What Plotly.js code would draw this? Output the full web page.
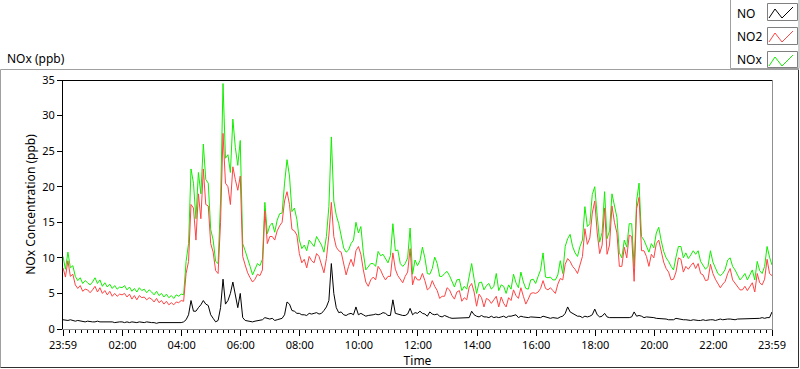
<!DOCTYPE html>
<html>
<head>
<meta charset="utf-8">
<script src="https://cdn.plot.ly/plotly-3.0.1.min.js"></script>
<style>
  html, body { margin: 0; padding: 0; background: #ffffff; }
  #chart { width: 800px; height: 369px; }
</style>
</head>
<body>
<div id="chart"></div>
<script>
// ---- data (5-minute samples starting 23:59) ----
const sampleStepMinutes = 5;

const noValues = [
  1.3, 1.2, 1.2, 1.3, 1.2, 1.1, 1.2, 1.1, 1.1, 1.0, 1.1, 1.0,
  1.0, 1.0, 1.1, 1.0, 1.0, 1.0, 1.0, 1.1, 1.0, 0.9, 1.0, 1.0,
  1.0, 0.9, 1.0, 0.9, 1.0, 0.9, 0.9, 1.0, 0.9, 0.9, 1.0, 0.9,
  0.9, 0.9, 0.8, 0.9, 0.9, 0.8, 0.8, 0.9, 0.8, 0.8, 0.9, 0.8,
  0.9, 1.0, 1.3, 2.0, 4.0, 2.5, 2.5, 3.0, 3.4, 4.0, 3.5, 3.3,
  2.0, 1.5, 1.0, 1.2, 3.0, 7.0, 3.5, 4.0, 5.0, 6.6, 4.5, 3.0,
  5.0, 1.6, 1.2, 1.1, 1.1, 1.0, 1.1, 1.2, 1.2, 1.3, 1.6, 1.5,
  1.4, 1.5, 1.2, 1.3, 1.4, 1.5, 2.0, 3.8, 3.5, 2.6, 2.5, 2.2,
  2.2, 2.0, 2.0, 1.9, 2.2, 2.1, 2.2, 2.3, 2.1, 2.2, 2.6, 3.1,
  4.0, 9.2, 5.0, 3.0, 2.3, 2.4, 2.0, 1.9, 2.1, 2.2, 2.0, 3.1,
  2.0, 2.2, 2.0, 1.8, 1.9, 1.9, 2.0, 2.1, 2.0, 2.1, 2.3, 2.2,
  1.9, 1.9, 4.1, 2.2, 2.1, 1.9, 1.9, 1.9, 2.1, 2.9, 2.0, 2.3,
  2.2, 2.5, 2.2, 2.1, 1.8, 2.4, 2.1, 2.0, 2.1, 1.8, 1.7, 1.9,
  1.7, 1.6, 1.5, 1.5, 1.6, 1.6, 1.5, 1.5, 1.5, 1.6, 2.5, 2.0,
  1.8, 1.7, 1.9, 1.7, 1.7, 1.6, 1.8, 1.6, 1.7, 1.6, 1.7, 1.8,
  1.6, 1.8, 1.8, 1.9, 2.0, 1.6, 1.8, 1.7, 1.6, 1.6, 1.7, 1.7,
  1.7, 1.6, 1.6, 1.8, 1.7, 1.6, 1.5, 1.6, 1.6, 1.5, 1.7, 1.8,
  2.2, 3.1, 2.4, 2.2, 2.1, 1.8, 1.8, 1.6, 1.8, 1.7, 1.8, 2.0,
  2.8, 2.0, 1.7, 1.8, 2.2, 1.7, 1.6, 1.6, 1.6, 1.6, 1.5, 1.6,
  1.6, 1.6, 1.6, 1.7, 2.4, 1.8, 1.9, 1.8, 1.6, 1.7, 1.7, 1.6,
  1.6, 1.5, 1.5, 1.5, 1.5, 1.4, 1.3, 1.3, 1.3, 1.5, 1.4, 1.3,
  1.3, 1.3, 1.2, 1.2, 1.3, 1.2, 1.2, 1.2, 1.3, 1.2, 1.3, 1.3,
  1.3, 1.2, 1.3, 1.4, 1.3, 1.4, 1.4, 1.4, 1.3, 1.3, 1.4, 1.4,
  1.5, 1.4, 1.4, 1.5, 1.4, 1.5, 1.4, 1.5, 1.6, 1.5, 1.6, 1.6, 2.4
];

const no2Values = [
  8.6, 7.3, 9.6, 7.4, 7.7, 6.2, 5.7, 6.1, 5.3, 5.6, 5.5, 5.1,
  5.5, 6.0, 5.2, 5.8, 5.0, 5.4, 4.8, 5.3, 4.6, 5.0, 4.6, 4.9,
  4.8, 5.0, 4.5, 4.9, 4.2, 4.7, 4.1, 4.7, 4.4, 4.5, 4.1, 4.4,
  4.2, 3.8, 4.3, 3.7, 4.0, 3.5, 3.9, 3.4, 3.7, 3.4, 3.8, 3.7,
  4.0, 3.9, 7.8, 9.5, 17.5, 17.0, 12.5, 19.0, 15.5, 22.5, 17.5, 17.3,
  12.0, 10.8, 8.2, 7.8, 15.0, 27.5, 20.5, 20.0, 17.5, 22.8, 21.0, 19.5,
  21.5, 10.2, 9.0, 7.9, 7.2, 6.6, 7.0, 7.7, 7.5, 8.3, 16.6, 12.0,
  13.0, 13.0, 12.5, 13.8, 14.5, 15.0, 18.0, 19.3, 17.5, 14.0, 13.8, 13.2,
  10.6, 9.3, 9.8, 8.6, 10.2, 9.6, 9.3, 10.6, 10.2, 9.2, 7.9, 9.9,
  13.2, 17.8, 13.0, 11.5, 11.0, 10.8, 9.4, 7.6, 8.8, 9.8, 8.8, 11.0,
  11.6, 10.5, 8.3, 6.6, 6.0, 6.9, 7.3, 6.9, 8.8, 8.3, 7.5, 6.9,
  7.4, 7.4, 10.7, 8.4, 7.5, 6.9, 6.5, 7.4, 8.0, 11.3, 6.2, 7.4,
  6.9, 6.9, 7.8, 6.8, 5.5, 5.8, 6.8, 6.0, 5.4, 4.3, 4.6, 4.6,
  5.8, 5.5, 4.7, 4.2, 5.2, 5.4, 3.9, 4.4, 4.1, 5.9, 6.4, 5.2,
  3.2, 4.9, 4.4, 3.1, 4.3, 4.1, 3.6, 4.1, 4.6, 3.1, 4.5, 3.6,
  3.1, 4.4, 4.0, 5.5, 4.7, 4.3, 5.8, 4.6, 3.5, 4.2, 5.0, 5.1,
  5.0, 5.2, 5.7, 6.8, 5.7, 5.5, 5.8, 5.4, 5.0, 6.3, 7.1, 6.9,
  9.1, 9.9, 9.5, 8.8, 8.4, 7.8, 9.2, 10.2, 14.1, 11.9, 12.8, 16.3,
  18.0, 13.5, 10.6, 11.8, 17.0, 10.5, 11.8, 17.3, 15.0, 13.5, 8.8, 8.8,
  11.5, 10.0, 13.2, 13.0, 6.7, 16.9, 18.5, 11.0, 11.0, 10.2, 8.8, 10.5,
  10.0, 12.0, 12.5, 10.7, 9.4, 8.5, 8.0, 6.9, 7.0, 8.0, 10.0, 9.8,
  8.0, 8.8, 8.4, 8.9, 9.3, 8.5, 9.2, 7.8, 7.6, 6.8, 6.9, 9.1,
  7.8, 7.0, 6.3, 5.8, 6.3, 6.7, 7.8, 8.5, 6.9, 6.4, 6.0, 5.5,
  5.5, 6.0, 5.4, 6.0, 6.5, 5.2, 7.8, 6.5, 6.2, 7.0, 9.8, 7.8, 7.5
];

const noxValues = [
  10.2, 8.4, 10.8, 8.6, 8.9, 7.4, 6.8, 7.2, 6.4, 6.8, 6.5, 6.2,
  6.6, 7.2, 6.4, 6.9, 6.0, 6.5, 5.9, 6.3, 5.7, 6.1, 5.6, 5.9,
  5.8, 6.1, 5.5, 5.9, 5.3, 5.7, 5.2, 5.8, 5.4, 5.6, 5.1, 5.5,
  5.2, 4.8, 5.3, 4.7, 5.0, 4.5, 4.9, 4.4, 4.7, 4.3, 4.8, 4.6,
  4.9, 4.8, 9.5, 12.0, 22.5, 20.5, 15.5, 22.0, 19.0, 26.0, 21.0, 20.5,
  14.0, 12.5, 9.5, 9.2, 18.0, 34.5, 24.0, 24.5, 22.0, 29.5, 25.5, 23.0,
  26.5, 12.0, 11.0, 9.7, 8.8, 7.6, 8.4, 9.2, 8.9, 9.8, 17.8, 13.4,
  14.5, 14.9, 13.6, 15.3, 16.2, 16.3, 20.5, 23.8, 21.5, 16.5, 17.0, 15.4,
  12.5, 11.3, 11.8, 11.0, 12.5, 12.0, 11.6, 13.0, 12.4, 11.8, 10.8, 13.0,
  17.2, 27.0, 18.0, 16.0, 14.8, 13.2, 11.4, 10.8, 11.1, 12.0, 12.5, 15.0,
  13.5, 14.4, 10.7, 8.3, 8.8, 9.2, 9.2, 8.8, 10.9, 10.3, 10.5, 9.8,
  9.3, 10.3, 14.8, 11.0, 11.1, 9.2, 8.8, 9.2, 10.0, 14.2, 7.7, 9.7,
  8.9, 9.6, 11.5, 10.0, 7.8, 7.7, 8.5, 10.1, 9.2, 7.4, 7.4, 7.8,
  8.1, 7.5, 6.7, 5.9, 6.9, 7.0, 5.4, 6.0, 5.6, 7.5, 9.2, 7.0,
  5.0, 6.5, 6.6, 5.5, 6.1, 6.4, 5.6, 6.0, 7.8, 5.4, 6.2, 6.0,
  5.0, 6.2, 5.6, 7.7, 6.5, 5.8, 8.0, 6.6, 5.7, 5.6, 6.9, 7.0,
  6.4, 7.4, 8.3, 10.7, 7.3, 7.2, 7.3, 6.9, 6.9, 7.6, 9.6, 7.8,
  11.6, 12.7, 13.3, 11.6, 10.7, 10.2, 11.6, 12.5, 17.2, 14.4, 14.8, 18.9,
  20.0, 15.9, 12.2, 13.6, 19.3, 12.7, 13.8, 19.0, 17.2, 15.7, 10.7, 10.0,
  12.5, 11.5, 14.8, 14.8, 8.8, 18.0, 20.5, 13.0, 12.5, 11.7, 10.8, 12.0,
  11.4, 13.5, 14.3, 12.4, 10.9, 10.0, 9.5, 8.8, 8.3, 10.1, 11.6, 11.6,
  10.0, 10.7, 9.9, 10.4, 11.0, 10.5, 11.0, 9.5, 8.9, 8.4, 8.8, 11.0,
  9.4, 8.6, 7.8, 7.5, 7.8, 8.4, 9.7, 10.0, 8.8, 8.3, 7.6, 6.9,
  7.3, 7.8, 6.9, 7.5, 8.3, 6.9, 9.5, 8.2, 7.8, 8.8, 11.6, 10.1, 9.0
];

const seriesNames = ['NO', 'NO2', 'NOx'];
const xTickVals = [0, 121, 241, 361, 481, 601, 721, 841, 961, 1081, 1201, 1321, 1440];
const xTickText = ['23:59', '02:00', '04:00', '06:00', '08:00', '10:00', '12:00',
                   '14:00', '16:00', '18:00', '20:00', '22:00', '23:59'];
const yTickVals = [0, 5, 10, 15, 20, 25, 30, 35];

// sample time grid (minutes after 23:59)
const times = noValues.map((_, i) => i * sampleStepMinutes);

// ---- layout helpers (pixel -> paper) ----
const W = 800, H = 369, ML = 63, MR = 28, MT = 80, MB = 40;
const PW = W - ML - MR, PH = H - MT - MB;
const px = x => (x - ML) / PW;
const py = y => (H - MB - y) / PH;

const FONT = 'Noto Sans, Open Sans, sans-serif';

const traces = [
  { x: times, y: noxValues, name: seriesNames[2], type: 'scatter', mode: 'lines',
    line: { color: '#12ee00', width: 1 } },
  { x: times, y: no2Values, name: seriesNames[1], type: 'scatter', mode: 'lines',
    line: { color: '#ff4444', width: 1 } },
  { x: times, y: noValues, name: seriesNames[0], type: 'scatter', mode: 'lines',
    line: { color: '#000000', width: 1 } }
];

function lineShape(x0, y0, x1, y1, color) {
  return { type: 'line', xref: 'paper', yref: 'paper',
    x0: px(x0), y0: py(y0), x1: px(x1), y1: py(y1),
    line: { color: color, width: 1 } };
}
function rectShape(x0, y0, x1, y1, color, fill) {
  return { type: 'rect', xref: 'paper', yref: 'paper',
    x0: px(x0), y0: py(y0), x1: px(x1), y1: py(y1),
    line: { color: color, width: 1 }, fillcolor: fill || 'rgba(0,0,0,0)' };
}
function zigzag(top, color) {
  const pts = [[769, top + 14], [775, top + 5], [782, top + 14], [793, top + 3]];
  const d = pts.map((p, i) => (i ? 'L' : 'M') + px(p[0]) + ',' + py(p[1])).join(' ');
  return { type: 'path', xref: 'paper', yref: 'paper', path: d,
    line: { color: color, width: 1 } };
}

const shapes = [
  // outer panel (sunken look)
  lineShape(0.5, 69.5, 798, 69.5, '#a0a0a0'),
  lineShape(0.5, 69.5, 0.5, 367.5, '#a0a0a0'),
  lineShape(0.5, 367.5, 798.5, 367.5, '#303030'),
  lineShape(798.5, 69.5, 798.5, 367.5, '#303030'),
  // plot frame top and right
  lineShape(62.5, 80.5, 772.5, 80.5, '#000000'),
  lineShape(772.5, 80.5, 772.5, 330, '#909090'),
  // legend box
  rectShape(730.5, -1, 799, 68.5, '#a0a0a0', '#ffffff'),
  rectShape(767.5, 3.5, 797.5, 20.5, '#808080', '#ffffff'),
  rectShape(767.5, 27.5, 797.5, 44.5, '#808080', '#ffffff'),
  rectShape(767.5, 51.5, 797.5, 67.5, '#808080', '#ffffff'),
  zigzag(4, '#000000'),
  zigzag(28, '#ff4444'),
  zigzag(52, '#12ee00')
];

const annotations = [
  { text: 'NOx (ppb)', xref: 'paper', yref: 'paper', x: px(5), y: py(58),
    xanchor: 'left', yanchor: 'middle', showarrow: false,
    font: { family: FONT, size: 12, color: '#000' } },
  { text: seriesNames[0], xref: 'paper', yref: 'paper', x: px(735), y: py(13),
    xanchor: 'left', yanchor: 'middle', showarrow: false,
    font: { family: FONT, size: 12, color: '#000' } },
  { text: seriesNames[1], xref: 'paper', yref: 'paper', x: px(735), y: py(36),
    xanchor: 'left', yanchor: 'middle', showarrow: false,
    font: { family: FONT, size: 12, color: '#000' } },
  { text: seriesNames[2], xref: 'paper', yref: 'paper', x: px(735), y: py(60),
    xanchor: 'left', yanchor: 'middle', showarrow: false,
    font: { family: FONT, size: 12, color: '#000' } }
];

const layout = {
  width: W, height: H,
  margin: { l: ML, r: MR, t: MT, b: MB, pad: 0 },
  paper_bgcolor: '#ffffff', plot_bgcolor: '#ffffff',
  showlegend: false,
  font: { family: FONT, size: 11, color: '#000' },
  xaxis: {
    range: [0, 1440], fixedrange: true,
    tickmode: 'array', tickvals: xTickVals, ticktext: xTickText,
    ticks: 'outside', ticklen: 6, tickcolor: '#000', tickwidth: 1,
    minor: { tick0: 1, dtick: 12, ticks: 'outside', ticklen: 3, tickcolor: '#000' },
    showgrid: false, zeroline: false,
    showline: true, linecolor: '#909090', linewidth: 1,
    tickfont: { family: FONT, size: 11, color: '#000' },
    title: { text: 'Time', standoff: 4, font: { family: FONT, size: 12, color: '#000' } },
    automargin: false
  },
  yaxis: {
    range: [0, 35], fixedrange: true,
    tickmode: 'array', tickvals: yTickVals,
    ticks: 'outside', ticklen: 5, tickcolor: '#000', tickwidth: 1,
    showgrid: false, zeroline: false,
    showline: true, linecolor: '#000', linewidth: 1,
    tickfont: { family: FONT, size: 11, color: '#000' },
    title: { text: 'NOx Concentration (ppb)', standoff: 4, font: { family: FONT, size: 12, color: '#000' } },
    automargin: false
  },
  shapes: shapes,
  annotations: annotations
};

Plotly.newPlot('chart', traces, layout, { displayModeBar: false, staticPlot: true });
</script>
</body>
</html>
